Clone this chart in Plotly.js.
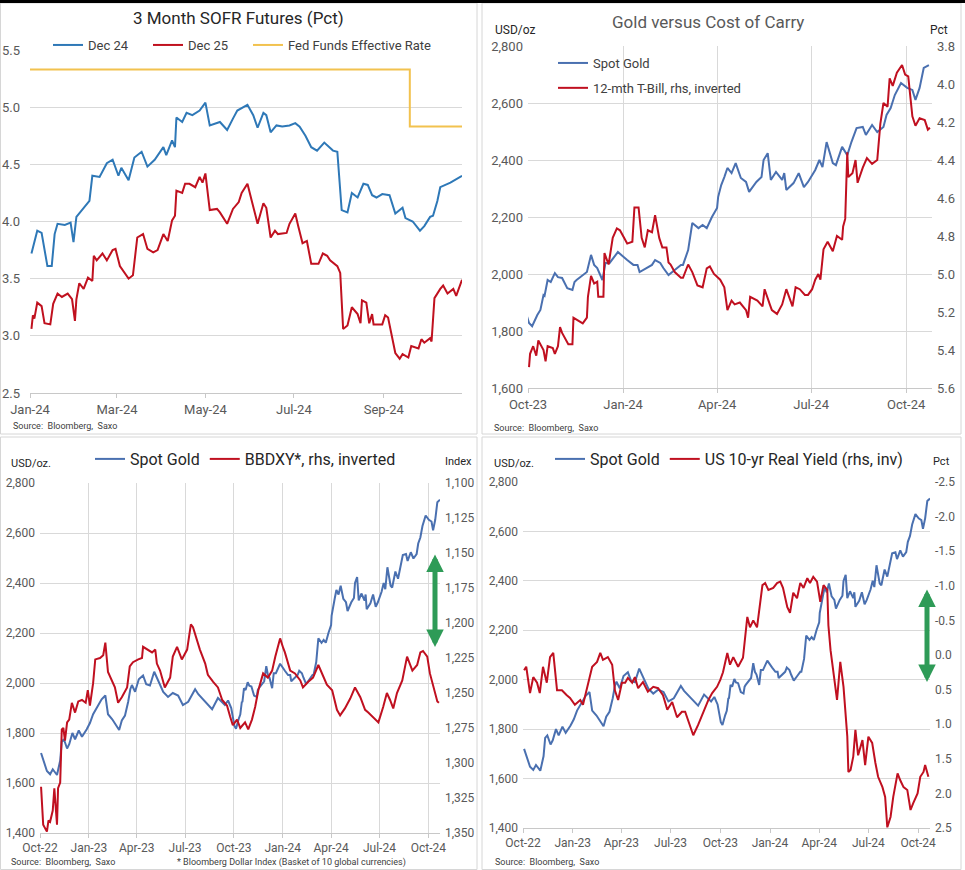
<!DOCTYPE html>
<html>
<head>
<meta charset="utf-8">
<script src="https://cdn.plot.ly/plotly-3.0.1.min.js"></script>
<style>html,body{margin:0;padding:0;background:#fff;}#chart{width:965px;height:870px;}</style>
</head>
<body>
<div id="chart"></div>
<script>
// ---------------- DATA ----------------
// Panel 1: 3 Month SOFR futures (implied rate, pct)
const dec24Dates = ["2024-01-02","2024-01-06","2024-01-09","2024-01-13","2024-01-16","2024-01-18","2024-01-20","2024-01-25","2024-01-29","2024-01-31","2024-02-02","2024-02-06","2024-02-11","2024-02-13","2024-02-18","2024-02-23","2024-02-27","2024-03-02","2024-03-04","2024-03-09","2024-03-13","2024-03-18","2024-03-22","2024-03-27","2024-04-02","2024-04-04","2024-04-08","2024-04-10","2024-04-11","2024-04-15","2024-04-18","2024-04-22","2024-04-27","2024-05-01","2024-05-04","2024-05-11","2024-05-16","2024-05-20","2024-05-23","2024-05-30","2024-06-03","2024-06-06","2024-06-10","2024-06-12","2024-06-15","2024-06-19","2024-06-23","2024-06-28","2024-07-02","2024-07-05","2024-07-09","2024-07-13","2024-07-17","2024-07-22","2024-07-28","2024-07-31","2024-08-03","2024-08-07","2024-08-10","2024-08-14","2024-08-18","2024-08-21","2024-08-24","2024-08-27","2024-08-31","2024-09-05","2024-09-07","2024-09-09","2024-09-14","2024-09-16","2024-09-21","2024-09-26","2024-09-29","2024-10-03","2024-10-05","2024-10-08","2024-10-10","2024-10-17","2024-10-25"];
const dec24 = [3.72,3.92,3.90,3.61,3.61,3.89,3.98,3.97,3.99,3.82,4.04,4.10,4.18,4.40,4.39,4.51,4.54,4.40,4.47,4.36,4.56,4.61,4.48,4.54,4.65,4.58,4.71,4.65,4.91,4.87,4.95,4.93,4.97,5.04,4.84,4.87,4.80,4.90,4.97,5.02,4.93,4.82,4.95,4.93,4.78,4.84,4.83,4.84,4.86,4.83,4.75,4.65,4.62,4.69,4.62,4.61,4.10,4.08,4.25,4.21,4.33,4.32,4.23,4.21,4.24,4.23,4.14,4.07,4.12,4.03,4.00,3.92,3.96,4.04,4.05,4.18,4.30,4.34,4.40];
const dec25Dates = ["2024-01-02","2024-01-03","2024-01-04","2024-01-06","2024-01-09","2024-01-11","2024-01-15","2024-01-17","2024-01-20","2024-01-23","2024-01-27","2024-01-30","2024-02-01","2024-02-02","2024-02-04","2024-02-07","2024-02-10","2024-02-13","2024-02-14","2024-02-16","2024-02-20","2024-02-23","2024-02-27","2024-02-29","2024-03-03","2024-03-09","2024-03-12","2024-03-15","2024-03-19","2024-03-22","2024-03-26","2024-03-29","2024-04-02","2024-04-05","2024-04-08","2024-04-10","2024-04-11","2024-04-15","2024-04-17","2024-04-20","2024-04-24","2024-04-27","2024-04-29","2024-05-01","2024-05-04","2024-05-09","2024-05-11","2024-05-16","2024-05-20","2024-05-24","2024-05-26","2024-05-30","2024-06-02","2024-06-06","2024-06-10","2024-06-12","2024-06-15","2024-06-18","2024-06-20","2024-06-26","2024-06-28","2024-07-02","2024-07-04","2024-07-07","2024-07-10","2024-07-13","2024-07-18","2024-07-21","2024-07-24","2024-07-26","2024-07-31","2024-08-02","2024-08-04","2024-08-07","2024-08-10","2024-08-14","2024-08-16","2024-08-17","2024-08-20","2024-08-22","2024-08-24","2024-08-25","2024-08-31","2024-09-02","2024-09-04","2024-09-07","2024-09-09","2024-09-12","2024-09-14","2024-09-18","2024-09-20","2024-09-25","2024-09-27","2024-09-29","2024-10-03","2024-10-04","2024-10-06","2024-10-10","2024-10-12","2024-10-15","2024-10-19","2024-10-21","2024-10-25"];
const dec25 = [3.06,3.18,3.15,3.29,3.26,3.11,3.10,3.28,3.37,3.34,3.37,3.32,3.13,3.32,3.46,3.41,3.51,3.48,3.70,3.66,3.72,3.66,3.75,3.76,3.61,3.50,3.53,3.86,3.89,3.76,3.73,3.75,3.89,3.83,4.01,4.05,4.27,4.25,4.33,4.33,4.30,4.39,4.34,4.42,4.10,4.11,4.08,3.98,4.11,4.17,4.25,4.33,4.18,3.98,4.16,4.12,3.86,3.92,3.89,3.90,3.98,4.07,3.96,3.81,3.83,3.63,3.63,3.72,3.70,3.66,3.61,3.55,3.06,3.09,3.25,3.19,3.11,3.31,3.29,3.11,3.19,3.10,3.10,3.18,3.16,2.98,2.85,2.80,2.84,2.81,2.91,2.89,2.97,2.94,2.98,2.95,3.33,3.41,3.44,3.37,3.41,3.35,3.49];
const fedFundsDates = ["2024-01-01","2024-09-19","2024-10-25"];
const fedFunds = [5.33,4.83,4.83];

// Spot gold (USD/oz), Oct-2022 to Oct-2024
const goldDates = ["2022-10-03","2022-10-07","2022-10-14","2022-10-20","2022-10-25","2022-11-02","2022-11-08","2022-11-11","2022-11-15","2022-11-21","2022-11-25","2022-12-01","2022-12-06","2022-12-13","2022-12-19","2022-12-28","2023-01-03","2023-01-09","2023-01-18","2023-01-25","2023-02-01","2023-02-06","2023-02-14","2023-02-19","2023-02-27","2023-03-04","2023-03-10","2023-03-16","2023-03-20","2023-03-23","2023-03-29","2023-04-05","2023-04-13","2023-04-19","2023-04-26","2023-05-04","2023-05-11","2023-05-21","2023-05-30","2023-06-08","2023-06-18","2023-06-27","2023-07-07","2023-07-16","2023-07-20","2023-07-26","2023-08-04","2023-08-13","2023-08-21","2023-09-01","2023-09-09","2023-09-14","2023-09-20","2023-09-26","2023-10-02","2023-10-05","2023-10-10","2023-10-13","2023-10-16","2023-10-17","2023-10-20","2023-10-23","2023-10-27","2023-10-30","2023-11-03","2023-11-08","2023-11-13","2023-11-15","2023-11-17","2023-11-23","2023-11-27","2023-12-01","2023-12-04","2023-12-07","2023-12-12","2023-12-15","2023-12-19","2023-12-27","2024-01-02","2024-01-05","2024-01-11","2024-01-15","2024-01-17","2024-01-24","2024-01-29","2024-02-01","2024-02-06","2024-02-09","2024-02-14","2024-02-20","2024-02-26","2024-02-28","2024-03-04","2024-03-08","2024-03-14","2024-03-18","2024-03-22","2024-03-27","2024-04-01","2024-04-02","2024-04-05","2024-04-08","2024-04-11","2024-04-15","2024-04-19","2024-04-24","2024-04-29","2024-05-02","2024-05-09","2024-05-14","2024-05-16","2024-05-20","2024-05-23","2024-05-28","2024-06-03","2024-06-05","2024-06-07","2024-06-14","2024-06-19","2024-06-24","2024-06-28","2024-07-05","2024-07-09","2024-07-12","2024-07-16","2024-07-22","2024-07-25","2024-07-31","2024-08-05","2024-08-09","2024-08-14","2024-08-20","2024-08-23","2024-08-29","2024-09-03","2024-09-09","2024-09-12","2024-09-16","2024-09-20","2024-09-26","2024-10-02","2024-10-07","2024-10-10","2024-10-14","2024-10-18","2024-10-23"];
const gold = [1720,1695,1648,1635,1655,1632,1690,1765,1775,1738,1755,1800,1775,1810,1785,1815,1840,1875,1910,1935,1950,1875,1855,1840,1812,1850,1870,1925,1975,1992,1965,2015,2030,1995,1990,2045,2012,1964,1944,1960,1950,1912,1925,1960,1975,1955,1935,1912,1895,1940,1920,1912,1930,1900,1828,1817,1856,1874,1926,1923,1979,1972,2003,1989,1986,1950,1944,1972,1979,1996,2007,2067,2032,2021,1979,2039,2039,2077,2056,2049,2032,2032,2007,2021,2032,2049,2039,2021,1996,2014,2032,2032,2084,2179,2161,2172,2161,2200,2232,2270,2312,2340,2372,2354,2389,2337,2323,2288,2323,2340,2400,2424,2330,2358,2330,2354,2295,2319,2354,2305,2323,2365,2400,2375,2463,2389,2382,2446,2417,2463,2512,2516,2488,2523,2498,2516,2558,2582,2628,2670,2653,2646,2611,2653,2723,2733];

// Panel 2: 12-month T-Bill yield (pct, plotted inverted)
const tbillDates = ["2023-10-02","2023-10-03","2023-10-06","2023-10-09","2023-10-11","2023-10-16","2023-10-18","2023-10-20","2023-10-25","2023-10-27","2023-10-30","2023-11-01","2023-11-03","2023-11-09","2023-11-13","2023-11-14","2023-11-17","2023-11-23","2023-11-27","2023-11-28","2023-12-01","2023-12-04","2023-12-07","2023-12-08","2023-12-13","2023-12-14","2023-12-18","2023-12-22","2023-12-26","2023-12-29","2024-01-05","2024-01-10","2024-01-12","2024-01-16","2024-01-19","2024-01-22","2024-01-25","2024-01-29","2024-02-01","2024-02-05","2024-02-08","2024-02-12","2024-02-14","2024-02-16","2024-02-20","2024-02-26","2024-02-28","2024-03-04","2024-03-08","2024-03-13","2024-03-18","2024-03-22","2024-03-25","2024-03-29","2024-04-04","2024-04-08","2024-04-11","2024-04-15","2024-04-18","2024-04-23","2024-04-29","2024-05-01","2024-05-03","2024-05-10","2024-05-15","2024-05-17","2024-05-22","2024-05-24","2024-05-29","2024-06-03","2024-06-07","2024-06-13","2024-06-16","2024-06-20","2024-06-25","2024-06-28","2024-07-02","2024-07-05","2024-07-08","2024-07-10","2024-07-13","2024-07-17","2024-07-22","2024-07-26","2024-07-31","2024-08-01","2024-08-03","2024-08-05","2024-08-06","2024-08-10","2024-08-13","2024-08-15","2024-08-20","2024-08-24","2024-08-29","2024-09-03","2024-09-06","2024-09-09","2024-09-13","2024-09-15","2024-09-18","2024-09-22","2024-09-27","2024-09-30","2024-10-03","2024-10-07","2024-10-10","2024-10-14","2024-10-19","2024-10-22","2024-10-24"];
const tbill12m = [5.49,5.42,5.38,5.43,5.35,5.40,5.46,5.38,5.39,5.42,5.38,5.28,5.31,5.37,5.37,5.23,5.24,5.26,5.23,5.12,5.01,5.05,5.04,5.12,5.12,4.89,4.95,4.81,4.76,4.77,4.84,4.83,4.65,4.65,4.81,4.86,4.77,4.78,4.69,4.81,4.86,4.86,4.94,4.95,4.99,5.02,5.02,4.95,4.99,5.06,5.07,4.97,4.96,5.00,5.03,5.07,5.19,5.14,5.16,5.15,5.19,5.23,5.12,5.14,5.17,5.08,5.16,5.19,5.21,5.16,5.08,5.17,5.07,5.08,5.11,5.11,5.08,5.03,5.00,5.03,4.87,4.83,4.88,4.80,4.82,4.75,4.71,4.36,4.49,4.47,4.40,4.52,4.44,4.39,4.42,4.40,4.21,4.10,4.12,3.97,4.01,3.94,3.90,3.95,3.96,4.17,4.22,4.18,4.19,4.24,4.23];

// Panel 3: Bloomberg Dollar Index (BBDXY, plotted inverted)
const bbdxyDates = ["2022-10-03","2022-10-05","2022-10-07","2022-10-14","2022-10-17","2022-10-20","2022-10-25","2022-10-28","2022-11-02","2022-11-04","2022-11-08","2022-11-11","2022-11-14","2022-11-17","2022-11-21","2022-11-25","2022-11-30","2022-12-06","2022-12-12","2022-12-19","2022-12-26","2022-12-30","2023-01-03","2023-01-09","2023-01-13","2023-01-22","2023-01-28","2023-02-01","2023-02-06","2023-02-19","2023-02-25","2023-03-04","2023-03-14","2023-03-19","2023-03-25","2023-04-04","2023-04-11","2023-04-13","2023-04-30","2023-05-06","2023-05-09","2023-05-15","2023-05-24","2023-06-03","2023-06-08","2023-06-16","2023-06-25","2023-07-05","2023-07-12","2023-07-16","2023-07-24","2023-07-29","2023-08-08","2023-08-13","2023-08-23","2023-09-01","2023-09-09","2023-09-18","2023-09-24","2023-09-29","2023-10-07","2023-10-13","2023-10-22","2023-10-28","2023-11-04","2023-11-10","2023-11-16","2023-11-25","2023-12-04","2023-12-12","2023-12-18","2023-12-23","2023-12-27","2024-01-02","2024-01-05","2024-01-15","2024-01-24","2024-02-03","2024-02-08","2024-02-18","2024-02-27","2024-03-08","2024-03-15","2024-03-24","2024-04-03","2024-04-12","2024-04-18","2024-04-27","2024-05-07","2024-05-16","2024-05-26","2024-06-04","2024-06-10","2024-06-19","2024-06-29","2024-07-08","2024-07-15","2024-07-21","2024-07-27","2024-08-03","2024-08-13","2024-08-22","2024-09-01","2024-09-10","2024-09-16","2024-09-21","2024-09-29","2024-10-04","2024-10-10","2024-10-18","2024-10-21"];
const bbdxy = [1317,1329,1344,1349,1341,1342,1334,1318,1344,1318,1314,1276,1275,1284,1271,1269,1257,1264,1256,1255,1257,1248,1259,1243,1226,1225,1223,1214,1235,1246,1257,1253,1246,1231,1228,1226,1225,1217,1221,1219,1229,1234,1246,1239,1224,1217,1226,1219,1201,1203,1214,1219,1229,1237,1242,1246,1255,1259,1267,1273,1269,1275,1271,1276,1269,1260,1248,1236,1239,1234,1224,1217,1211,1218,1221,1234,1236,1241,1246,1242,1239,1230,1236,1244,1248,1262,1266,1261,1254,1246,1253,1262,1264,1267,1271,1260,1250,1255,1261,1250,1241,1224,1234,1230,1221,1220,1224,1236,1244,1256,1257];

// Panel 4: US 10-yr real yield (pct, plotted inverted)
const realYieldDates = ["2022-10-03","2022-10-07","2022-10-14","2022-10-20","2022-10-27","2022-11-01","2022-11-07","2022-11-14","2022-11-20","2022-11-26","2022-12-03","2022-12-12","2022-12-21","2022-12-27","2023-01-05","2023-01-15","2023-01-20","2023-01-28","2023-02-06","2023-02-15","2023-02-21","2023-02-26","2023-03-07","2023-03-15","2023-03-20","2023-03-26","2023-04-02","2023-04-08","2023-04-13","2023-04-21","2023-04-26","2023-05-02","2023-05-11","2023-05-20","2023-05-30","2023-06-08","2023-06-17","2023-06-25","2023-07-04","2023-07-13","2023-07-22","2023-07-28","2023-08-06","2023-08-12","2023-08-21","2023-08-30","2023-09-09","2023-09-16","2023-09-25","2023-10-01","2023-10-06","2023-10-14","2023-10-19","2023-10-25","2023-11-03","2023-11-12","2023-11-16","2023-11-20","2023-11-25","2023-12-01","2023-12-08","2023-12-18","2023-12-23","2023-12-29","2024-01-07","2024-01-14","2024-01-20","2024-01-25","2024-02-02","2024-02-07","2024-02-13","2024-02-20","2024-02-26","2024-03-03","2024-03-10","2024-03-15","2024-03-21","2024-03-28","2024-04-03","2024-04-09","2024-04-16","2024-04-18","2024-04-22","2024-04-27","2024-05-04","2024-05-10","2024-05-16","2024-05-23","2024-05-25","2024-05-29","2024-06-03","2024-06-07","2024-06-12","2024-06-20","2024-06-25","2024-07-01","2024-07-08","2024-07-14","2024-07-19","2024-07-27","2024-08-01","2024-08-05","2024-08-11","2024-08-16","2024-08-24","2024-08-29","2024-09-04","2024-09-11","2024-09-17","2024-09-22","2024-09-30","2024-10-05","2024-10-11","2024-10-14","2024-10-20"];
const realYield10y = [0.22,0.17,0.55,0.32,0.40,0.55,0.17,0.40,0.03,-0.03,0.51,0.51,0.58,0.62,0.72,0.65,0.72,0.46,0.17,0.10,-0.03,0.07,0.03,0.14,0.51,0.65,0.40,0.40,0.33,0.40,0.32,0.48,0.39,0.53,0.46,0.48,0.58,0.79,0.68,0.90,0.82,0.82,1.04,1.16,1.01,0.84,0.65,0.55,0.46,0.36,0.25,-0.03,0.14,0.03,0.17,0.04,-0.29,-0.55,-0.40,-0.50,-0.40,-1.01,-1.04,-0.94,-0.97,-1.04,-1.06,-0.97,-0.69,-0.61,-0.90,-0.82,-1.04,-0.97,-1.11,-1.04,-1.13,-1.06,-0.77,-1.01,-0.94,-0.43,-0.07,0.26,0.65,0.10,0.46,1.18,1.69,1.66,1.47,1.08,1.45,1.23,1.59,1.18,1.27,1.56,1.76,1.91,2.05,2.49,2.34,2.05,1.71,1.81,1.91,1.95,2.24,2.14,2.00,1.76,1.69,1.59,1.76];
const realYieldTickVals = [-2.5,-2,-1.5,-1,-0.5,0,0.5,1,1.5,2,2.5];
const realYieldTickText = ["-2.5","-2.0","-1.5","-1.0","-0.5","0.0","0.5","1.0","1.5","2.0","2.5"];

// ---------------- LAYOUT HELPERS ----------------
const W = 965, H = 870;
const px = x => x / W;
const py = y => 1 - y / H;
const FONT = "Roboto, 'Open Sans', sans-serif";
const TICKC = "#595959";
const GRID = "#d9d9d9";

const blue1 = "#2e78b7", red1 = "#c0111f", yel = "#f2c24f";
const blueG = "#4a70b0", redG = "#c01020";

const traces = [
  {x: dec24Dates, y: dec24, name: "Dec 24", type: "scatter", mode: "lines", line: {color: blue1, width: 2}, xaxis: "x", yaxis: "y", legend: "legend"},
  {x: dec25Dates, y: dec25, name: "Dec 25", type: "scatter", mode: "lines", line: {color: red1, width: 2}, xaxis: "x", yaxis: "y", legend: "legend"},
  {x: fedFundsDates, y: fedFunds, name: "Fed Funds Effective Rate", type: "scatter", mode: "lines", line: {color: yel, width: 2, shape: "hv"}, xaxis: "x", yaxis: "y", legend: "legend5"},

  {x: goldDates, y: gold, name: "Spot Gold", type: "scatter", mode: "lines", line: {color: blueG, width: 2}, xaxis: "x2", yaxis: "y2", legend: "legend2", legendgroup: "a"},
  {x: tbillDates, y: tbill12m, name: "12-mth T-Bill, rhs, inverted", type: "scatter", mode: "lines", line: {color: redG, width: 2}, xaxis: "x2", yaxis: "y3", legend: "legend2", legendgroup: "b"},

  {x: goldDates, y: gold, name: "Spot Gold", type: "scatter", mode: "lines", line: {color: blueG, width: 2}, xaxis: "x3", yaxis: "y4", legend: "legend3"},
  {x: bbdxyDates, y: bbdxy, name: "BBDXY*, rhs, inverted", type: "scatter", mode: "lines", line: {color: redG, width: 2}, xaxis: "x3", yaxis: "y5", legend: "legend3"},

  {x: goldDates, y: gold, name: "Spot Gold", type: "scatter", mode: "lines", line: {color: blueG, width: 2}, xaxis: "x4", yaxis: "y6", legend: "legend4"},
  {x: realYieldDates, y: realYield10y, name: "US 10-yr Real Yield (rhs, inv)", type: "scatter", mode: "lines", line: {color: redG, width: 2}, xaxis: "x4", yaxis: "y7", legend: "legend4"}
];

const tf = (s) => ({family: FONT, size: s, color: TICKC});
const baseX = (dom, anchor, range, tick0, dtick, grid, fs) => ({
  domain: dom, anchor: anchor, type: "date", range: range, tick0: tick0, dtick: dtick,
  tickformat: "%b-%y", showgrid: grid, gridcolor: GRID, gridwidth: 1, zeroline: false,
  showline: true, linecolor: "#c8c8c8", linewidth: 1, ticks: "outside", ticklen: 4, tickcolor: "#c8c8c8",
  tickfont: tf(fs), fixedrange: true
});
const baseY = (dom, anchor, range, dtick, fmt, fs) => ({
  domain: dom, anchor: anchor, range: range, dtick: dtick, tickformat: fmt,
  showgrid: true, gridcolor: GRID, gridwidth: 1, zeroline: false, showline: false, ticks: "",
  tickfont: tf(fs), ticklabelstandoff: 4, fixedrange: true
});
const rightY = (overlay, anchor, range, dtick, fmt, fs) => ({
  overlaying: overlay, anchor: anchor, side: "right", range: range, dtick: dtick, tickformat: fmt,
  showgrid: false, zeroline: false, showline: false, ticks: "", tickfont: tf(fs), ticklabelstandoff: 4, fixedrange: true
});
const legendBase = (x, y, orient, size, color) => ({
  orientation: orient, x: x, y: y, xanchor: "left", yanchor: "top", bgcolor: "rgba(0,0,0,0)",
  font: {family: FONT, size: size, color: color}, itemwidth: 30
});

const layout = {
  width: W, height: H, margin: {l: 0, r: 0, t: 0, b: 0},
  paper_bgcolor: "#ffffff", plot_bgcolor: "rgba(0,0,0,0)",
  font: {family: FONT, color: "#404040"},
  showlegend: true, hovermode: false,

  xaxis: baseX([px(30), px(462)], "y", ["2024-01-01", "2024-10-25"], "2024-01-01", "M2", false, 13),
  yaxis: Object.assign(baseY([py(393), py(50)], "x", [2.5, 5.5], 0.5, ".1f", 13), {ticklabelstandoff: 9}),

  xaxis2: baseX([px(528), px(932)], "y2", ["2023-10-01", "2024-10-26"], "2023-10-01", "M3", true, 13),
  yaxis2: baseY([py(388), py(46)], "x2", [1600, 2800], 200, ",", 13),
  yaxis3: rightY("y2", "x2", [5.6, 3.8], 0.2, ".1f", 13),

  xaxis3: baseX([px(40), px(440)], "y4", ["2022-10-01", "2024-10-23"], "2022-10-01", "M3", true, 12),
  yaxis4: baseY([py(833), py(483)], "x3", [1400, 2800], 200, ",", 12),
  yaxis5: rightY("y4", "x3", [1350, 1100], 25, ",", 12),

  xaxis4: baseX([px(523), px(930)], "y6", ["2022-10-01", "2024-10-23"], "2022-10-01", "M3", false, 12),
  yaxis6: baseY([py(828), py(482)], "x4", [1400, 2800], 200, ",", 12),
  yaxis7: Object.assign(rightY("y6", "x4", [2.5, -2.5], 0.5, ".1f", 12), {tickmode: "array", tickvals: realYieldTickVals, ticktext: realYieldTickText}),

  legend: Object.assign(legendBase(px(48), py(30), "h", 13, "#404040"), {entrywidth: 55, entrywidthmode: "pixels"}),
  legend5: legendBase(px(248), py(30), "h", 13, "#404040"),
  legend2: Object.assign(legendBase(px(553), py(48), "v", 13, "#404040"), {tracegroupgap: 5}),
  legend3: legendBase(px(90), py(442), "h", 16, "#262626"),
  legend4: legendBase(px(550), py(442), "h", 16, "#262626"),

  shapes: [
    {type: "rect", xref: "paper", yref: "paper", x0: px(0.5), x1: px(477), y0: py(434), y1: py(3), line: {color: "#d6d6d6", width: 1}},
    {type: "rect", xref: "paper", yref: "paper", x0: px(482), x1: px(961), y0: py(434), y1: py(3), line: {color: "#d6d6d6", width: 1}},
    {type: "rect", xref: "paper", yref: "paper", x0: px(0.5), x1: px(477), y0: py(869.5), y1: py(437), line: {color: "#d6d6d6", width: 1}},
    {type: "rect", xref: "paper", yref: "paper", x0: px(482), x1: px(961), y0: py(869.5), y1: py(437), line: {color: "#d6d6d6", width: 1}},
    {type: "rect", xref: "paper", yref: "paper", x0: 0, x1: 1, y0: py(3), y1: 1, fillcolor: "#000000", line: {width: 0}}
  ],

  annotations: [
    {text: "3 Month SOFR Futures (Pct)", x: px(238), y: py(18), xref: "paper", yref: "paper", showarrow: false, xanchor: "center", yanchor: "middle", font: {family: FONT, size: 17, color: "#262626"}},
    {text: "Source:  Bloomberg,  Saxo", x: px(11), y: py(426), xref: "paper", yref: "paper", showarrow: false, xanchor: "left", yanchor: "middle", font: {family: FONT, size: 9, color: "#404040"}},

    {text: "Gold versus Cost of Carry", x: px(708), y: py(22), xref: "paper", yref: "paper", showarrow: false, xanchor: "center", yanchor: "middle", font: {family: FONT, size: 17, color: "#595959"}},
    {text: "USD/oz", x: px(493), y: py(30), xref: "paper", yref: "paper", showarrow: false, xanchor: "left", yanchor: "middle", font: {family: FONT, size: 12, color: "#262626"}},
    {text: "Pct", x: px(950), y: py(30), xref: "paper", yref: "paper", showarrow: false, xanchor: "right", yanchor: "middle", font: {family: FONT, size: 12, color: "#262626"}},
    {text: "Source:  Bloomberg,  Saxo", x: px(492), y: py(428), xref: "paper", yref: "paper", showarrow: false, xanchor: "left", yanchor: "middle", font: {family: FONT, size: 9, color: "#404040"}},

    {text: "USD/oz.", x: px(9), y: py(463), xref: "paper", yref: "paper", showarrow: false, xanchor: "left", yanchor: "middle", font: {family: FONT, size: 11, color: "#262626"}},
    {text: "Index", x: px(474), y: py(462), xref: "paper", yref: "paper", showarrow: false, xanchor: "right", yanchor: "middle", font: {family: FONT, size: 11, color: "#262626"}},
    {text: "Source:  Bloomberg,  Saxo", x: px(9), y: py(862), xref: "paper", yref: "paper", showarrow: false, xanchor: "left", yanchor: "middle", font: {family: FONT, size: 9, color: "#404040"}},
    {text: "* Bloomberg Dollar Index (Basket of 10 global currencies)", x: px(175), y: py(862), xref: "paper", yref: "paper", showarrow: false, xanchor: "left", yanchor: "middle", font: {family: FONT, size: 9, color: "#404040"}},

    {text: "USD/oz.", x: px(492), y: py(463), xref: "paper", yref: "paper", showarrow: false, xanchor: "left", yanchor: "middle", font: {family: FONT, size: 11, color: "#262626"}},
    {text: "Pct", x: px(952), y: py(462), xref: "paper", yref: "paper", showarrow: false, xanchor: "right", yanchor: "middle", font: {family: FONT, size: 11, color: "#262626"}},
    {text: "Source:  Bloomberg,  Saxo", x: px(493), y: py(862), xref: "paper", yref: "paper", showarrow: false, xanchor: "left", yanchor: "middle", font: {family: FONT, size: 9, color: "#404040"}},

    {text: "", x: px(435), y: py(647), xref: "paper", yref: "paper", ax: 0, ay: -94, showarrow: true, arrowhead: 2, arrowside: "end+start", arrowwidth: 5, arrowsize: 0.7, arrowcolor: "#2e9b57", standoff: 0, startstandoff: 0},
    {text: "", x: px(927), y: py(682), xref: "paper", yref: "paper", ax: 0, ay: -94, showarrow: true, arrowhead: 2, arrowside: "end+start", arrowwidth: 5, arrowsize: 0.7, arrowcolor: "#2e9b57", standoff: 0, startstandoff: 0}
  ]
};

Plotly.newPlot("chart", traces, layout, {staticPlot: true, displayModeBar: false});
</script>
</body>
</html>
